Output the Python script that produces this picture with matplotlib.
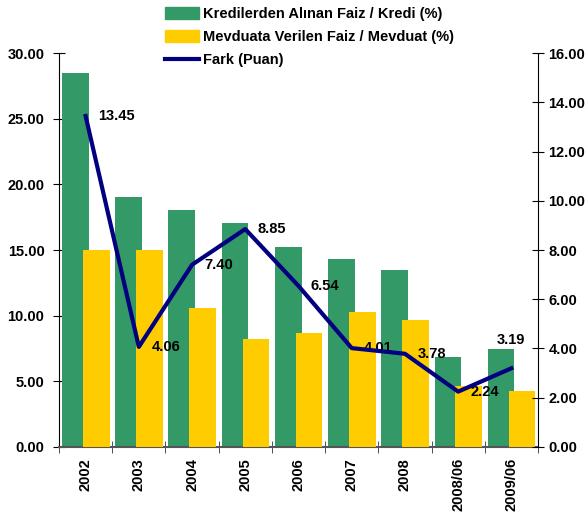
import numpy as np
import matplotlib.pyplot as plt
from matplotlib.patches import Patch
from matplotlib.lines import Line2D

plt.rcParams['font.family'] = ['Liberation Sans', 'DejaVu Sans']
plt.rcParams['font.weight'] = 'bold'

donemler = ['2002', '2003', '2004', '2005', '2006', '2007', '2008', '2008/06', '2009/06']
kredi = [28.5, 19.04, 18.05, 17.06, 15.23, 14.31, 13.48, 6.84, 7.45]
mevduat = [15.0, 15.0, 10.6, 8.2, 8.67, 10.27, 9.66, 4.63, 4.25]
fark = [13.45, 4.06, 7.40, 8.85, 6.54, 4.01, 3.78, 2.24, 3.19]

green = '#339966'
yellow = '#FFCC00'
navy = '#000080'

fig = plt.figure(figsize=(5.87, 5.21), dpi=100)
ax = fig.add_axes([0.1005, 0.1426, 0.816, 0.7551])
x = np.arange(len(donemler))

ax.bar(x - 0.193, kredi, width=0.5, color=green, zorder=2)
ax.bar(x + 0.2, mevduat, width=0.5, color=yellow, zorder=3)
ax.set_xlim(-0.5, len(donemler) - 0.5)
ax.set_ylim(0, 30)
ax.set_yticks(np.arange(0, 31, 5))
ax.set_yticklabels([f'{v:.2f}' for v in np.arange(0, 31, 5)], fontsize=10.5, fontweight='bold')
ax.set_xticks(x)
ax.set_xticklabels(donemler, rotation=90, fontsize=10.5, fontweight='bold')
ax.set_xticks(np.arange(-0.5, len(donemler)), minor=True)
ax.tick_params(axis='x', which='major', length=0, pad=8)
ax.tick_params(axis='x', which='minor', direction='inout', length=8, color='#333333')
ax.tick_params(axis='y', direction='inout', length=9, width=0.8, pad=6)
ax.spines['top'].set_visible(False)
ax.spines['right'].set_visible(False)
ax.spines['bottom'].set_color('#555555')
ax.spines['bottom'].set_linewidth(1.5)

ax2 = ax.twinx()
ax2.plot(x, fark, color=navy, lw=3, zorder=5)
ax2.set_ylim(0, 16)
ax2.set_yticks(np.arange(0, 17, 2))
ax2.set_yticklabels([f'{v:.2f}' for v in np.arange(0, 17, 2)], fontsize=10.5, fontweight='bold')
ax2.tick_params(axis='y', direction='inout', length=9, width=0.8, pad=3)
ax2.spines['top'].set_visible(False)
ax2.spines['left'].set_visible(False)
ax2.spines['bottom'].set_visible(False)

for i, v in enumerate(fark):
    if i == len(fark) - 1:
        ax2.annotate(f'{v:.2f}', (i, v), xytext=(0, 20), textcoords='offset points',
                     ha='center', va='center', fontsize=10.5, fontweight='bold')
    else:
        ax2.annotate(f'{v:.2f}', (i, v), xytext=(9, 0), textcoords='offset points',
                     ha='left', va='center', fontsize=10.5, fontweight='bold')

handles = [Patch(color=green), Patch(color=yellow), Line2D([], [], color=navy, lw=3)]
labels = ['Kredilerden Alınan Faiz / Kredi (%)', 'Mevduata Verilen Faiz / Mevduat (%)', 'Fark (Puan)']
fig.legend(handles, labels, loc='upper left', bbox_to_anchor=(0.268, 1.0), frameon=False,
           prop={'size': 10.5, 'weight': 'bold'}, handlelength=2.35, handleheight=0.9,
           handletextpad=0.25, labelspacing=0.6, borderaxespad=0.1)

fig.savefig('out.png', dpi=100)
